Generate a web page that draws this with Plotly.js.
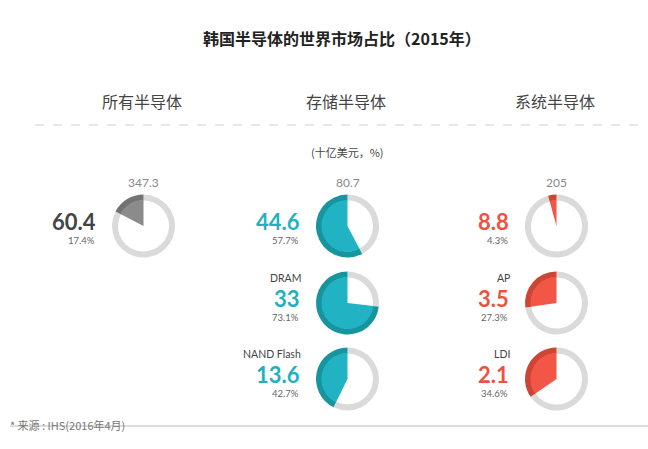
<!DOCTYPE html>
<html>
<head>
<meta charset="utf-8">
<script src="https://cdn.plot.ly/plotly-3.0.1.min.js"></script>
<style>html,body{margin:0;padding:0;background:#fff;}#chart{width:648px;height:449px;}</style>
</head>
<body>
<div id="chart"></div>
<script>
// ---- data ----
const chartTitle = '韩国半导体的世界市场占比（2015年）';
const groupNames = ['所有半导体', '存储半导体', '系统半导体'];
const groupTotals = [347.3, 80.7, 205];
const unitLabel = '(十亿美元，%)';
const itemGroups = [0, 1, 1, 1, 2, 2, 2];
const itemLabels = ['', '', 'DRAM', 'NAND Flash', '', 'AP', 'LDI'];
const koreaValues = [60.4, 44.6, 33, 13.6, 8.8, 3.5, 2.1];
const koreaShares = [17.4, 57.7, 73.1, 42.7, 4.3, 27.3, 34.6];
const sourceNote = '* 来源 : IHS(2016年4月)';

// ---- styling / layout (pixel positions) ----
const W = 648, H = 449;
const groupCenterX = [143.5, 347.5, 556.5];
const rowCenterY = [226, 303, 379];
const itemRow = [0, 0, 1, 2, 0, 1, 2];
const R = 31.5, ringW = 6;
const palette = [
  {inner: '#8b8b8b', ring: '#737373', text: '#444444'},
  {inner: '#21b3c3', ring: '#17959f', text: '#1fb1c2'},
  {inner: '#f25646', ring: '#cc4535', text: '#f0513f'}
];
const ringGrey = '#dadada';
const fx = px => px / W;
const fy = py => 1 - py / H;
const cjk = '"Noto Sans CJK SC", "Noto Sans", sans-serif';
const numFont = 'Lato, "Noto Sans", sans-serif';

const traces = [];
const annotations = [];

koreaValues.forEach((v, i) => {
  const g = itemGroups[i];
  const cx = groupCenterX[g];
  const cy = rowCenterY[itemRow[i]];
  const share = koreaShares[i];
  const rest = 100 - share;
  // outer ring: remainder first (clockwise from 12), Korea share fills the rest back to 12 o'clock
  traces.push({
    type: 'pie', values: [rest, share], sort: false, direction: 'clockwise', rotation: 0,
    hole: (R - ringW) / R, textinfo: 'none', hoverinfo: 'none', showlegend: false,
    marker: {colors: [ringGrey, palette[g].ring], line: {width: 0}},
    domain: {x: [fx(cx - R), fx(cx + R)], y: [fy(cy + R), fy(cy - R)]}
  });
  // inner filled sector
  const r2 = R - ringW + 0.5;
  traces.push({
    type: 'pie', values: [rest, share], sort: false, direction: 'clockwise', rotation: 0,
    textinfo: 'none', hoverinfo: 'none', showlegend: false,
    marker: {colors: ['rgba(255,255,255,0)', palette[g].inner], line: {width: 0}},
    domain: {x: [fx(cx - r2), fx(cx + r2)], y: [fy(cy + r2), fy(cy - r2)]}
  });
  const rightX = cx - 46;
  if (itemLabels[i]) {
    annotations.push({text: itemLabels[i], x: fx(rightX + 1), y: fy(cy - 25), xref: 'paper', yref: 'paper',
      xanchor: 'right', yanchor: 'middle', showarrow: false, font: {family: numFont, size: 10.5, color: '#444'}});
  }
  annotations.push({text: '<b>' + v + '</b>', x: fx(rightX), y: fy(cy - 5), xref: 'paper', yref: 'paper',
    xanchor: 'right', yanchor: 'middle', showarrow: false, font: {family: numFont, size: 22, color: palette[g].text}});
  annotations.push({text: share.toFixed(1) + '%', x: fx(rightX - 1), y: fy(cy + 14), xref: 'paper', yref: 'paper',
    xanchor: 'right', yanchor: 'middle', showarrow: false, font: {family: numFont, size: 9.5, color: '#666'}});
});

groupNames.forEach((name, g) => {
  annotations.push({text: name, x: fx(groupCenterX[g] - 2), y: fy(101), xref: 'paper', yref: 'paper',
    xanchor: 'center', yanchor: 'middle', showarrow: false, font: {family: cjk, size: 16, color: '#444'}});
  annotations.push({text: String(groupTotals[g]), x: fx(groupCenterX[g]), y: fy(182), xref: 'paper', yref: 'paper',
    xanchor: 'center', yanchor: 'middle', showarrow: false, font: {family: numFont, size: 12, color: '#888'}});
});

annotations.push({text: unitLabel, x: fx(347), y: fy(152), xref: 'paper', yref: 'paper',
  xanchor: 'center', yanchor: 'middle', showarrow: false, font: {family: cjk, size: 11, color: '#444'}});
annotations.push({text: '<b>' + chartTitle + '</b>', x: fx(342), y: fy(38), xref: 'paper', yref: 'paper',
  xanchor: 'center', yanchor: 'middle', showarrow: false, font: {family: cjk, size: 16, color: '#222'}});
annotations.push({text: sourceNote, x: fx(8), y: fy(425), xref: 'paper', yref: 'paper',
  xanchor: 'left', yanchor: 'middle', showarrow: false, font: {family: cjk, size: 11, color: '#777'}});

const layout = {
  width: W, height: H, margin: {l: 0, r: 0, t: 0, b: 0},
  paper_bgcolor: '#fff', plot_bgcolor: '#fff',
  showlegend: false,
  annotations: annotations,
  shapes: [
    {type: 'line', xref: 'paper', yref: 'paper', x0: fx(35), x1: fx(641), y0: fy(125), y1: fy(125),
      line: {color: '#d0d0d0', width: 1, dash: 'dash'}},
    {type: 'line', xref: 'paper', yref: 'paper', x0: fx(10), x1: fx(648), y0: fy(426), y1: fy(426),
      line: {color: '#bbbbbb', width: 1}}
  ]
};

Plotly.newPlot('chart', traces, layout, {staticPlot: true, displayModeBar: false});
</script>
</body>
</html>
